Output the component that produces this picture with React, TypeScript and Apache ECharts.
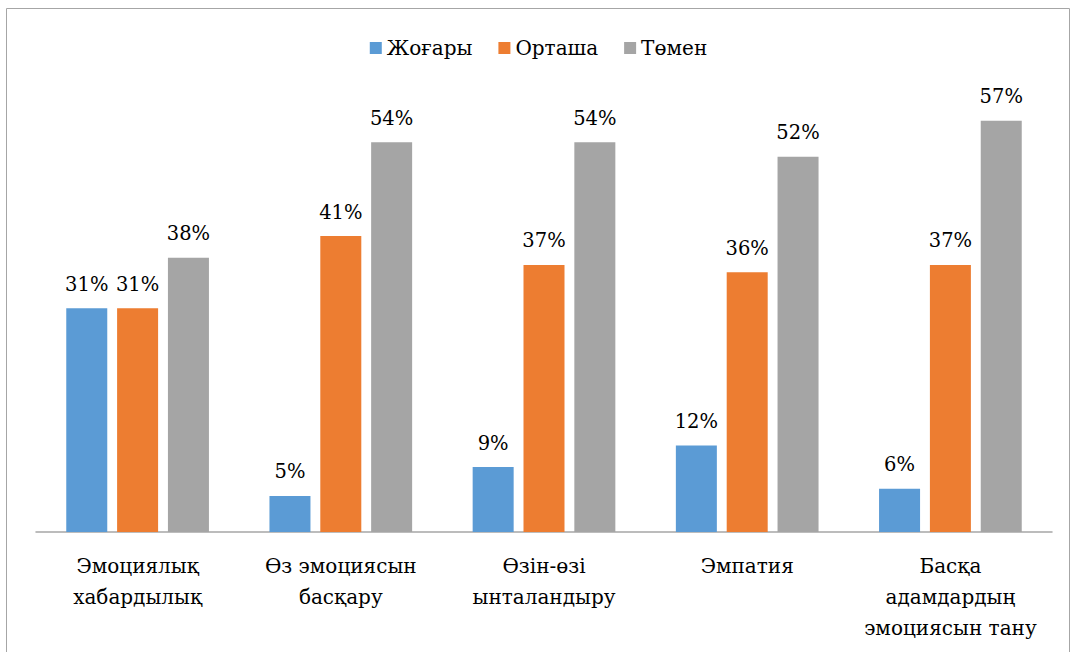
import React, { useEffect, useRef } from "react";
import * as echarts from "echarts";

const categories = [
  "Эмоциялық\nхабардылық",
  "Өз эмоциясын\nбасқару",
  "Өзін-өзі\nынталандыру",
  "Эмпатия",
  "Басқа\nадамдардың\nэмоциясын тану",
];
const seriesNames = ["Жоғары", "Орташа", "Төмен"];
const high = [31, 5, 9, 12, 6];
const medium = [31, 41, 37, 36, 37];
const low = [38, 54, 54, 52, 57];
const colors = ["#5B9BD5", "#ED7D31", "#A5A5A5"];

const FONT = "DejaVu Serif";

export default function App() {
  const ref = useRef<HTMLDivElement>(null);
  useEffect(() => {
    if (!ref.current) return;
    const chart = echarts.init(ref.current, null, { renderer: "svg" });
    const values = [high, medium, low];
    chart.setOption({
      animation: false,
      backgroundColor: "#fff",
      graphic: [
        {
          type: "rect",
          shape: { x: 6.5, y: 8.5, width: 1063, height: 700, r: 0 },
          style: { fill: "none", stroke: "#a6a6a6", lineWidth: 1 },
          silent: true,
        },
      ],
      legend: {
        top: 33,
        left: "center",
        itemWidth: 12,
        itemHeight: 12,
        itemGap: 26,
        icon: "rect",
        textStyle: { fontFamily: FONT, fontSize: 20, color: "#000" },
        data: seriesNames,
      },
      grid: { left: 36, right: 25, top: 99, bottom: 120 },
      xAxis: {
        type: "category",
        data: categories,
        axisTick: { show: false },
        axisLine: { lineStyle: { color: "#a6a6a6", width: 1.5 } },
        axisLabel: {
          fontFamily: FONT,
          fontSize: 20,
          color: "#000",
          lineHeight: 31,
          margin: 18,
          interval: 0,
        },
      },
      yAxis: {
        type: "value",
        min: 0,
        max: 60,
        show: false,
        splitLine: { show: false },
      },
      series: seriesNames.map((name, i) => ({
        name,
        type: "bar",
        data: values[i],
        barWidth: 41,
        barGap: "24%",
        itemStyle: { color: colors[i] },
        label: {
          show: true,
          position: "top",
          distance: 14,
          formatter: "{c}%",
          fontFamily: FONT,
          fontSize: 19.5,
          color: "#000",
        },
      })),
    });
    return () => chart.dispose();
  }, []);
  return (
    <div
      ref={ref}
      style={{ position: "absolute", left: 0, top: 0, width: 1077, height: 652 }}
    />
  );
}
